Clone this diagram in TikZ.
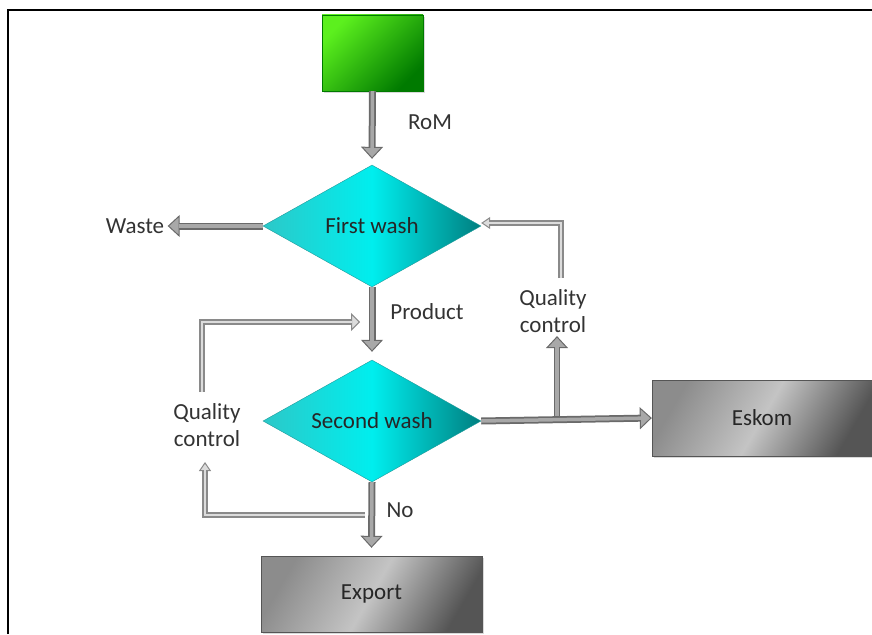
\documentclass[tikz,border=0pt]{standalone}
\usepackage{fontspec}
\setmainfont{Carlito}
\usetikzlibrary{shapes.geometric,arrows.meta,shadows}

\definecolor{feedlight}{HTML}{5CF01E}
\definecolor{feeddark}{HTML}{007A00}
\definecolor{washleft}{HTML}{2CC8C8}
\definecolor{washmid}{HTML}{00EEEE}
\definecolor{washright}{HTML}{007F80}
\definecolor{washedge}{HTML}{1E9A9A}
\definecolor{boxside}{HTML}{8C8C8C}
\definecolor{boxlight}{HTML}{C4C4C4}
\definecolor{boxdark}{HTML}{555555}
\definecolor{pipedark}{HTML}{6A6A6A}
\definecolor{pipelight}{HTML}{A8A8A8}
\definecolor{loopdark}{HTML}{8A8A8A}
\definecolor{looplight}{HTML}{DCDCDC}
\definecolor{inkgray}{HTML}{333333}

\tikzset{
  feedbox/.style={rectangle, minimum width=101pt, minimum height=76pt, draw=feeddark,
    left color=feedlight, right color=feeddark, shading angle=45,
    drop shadow={opacity=0.3, shadow xshift=2pt, shadow yshift=-2pt}},
  washbox/.style={diamond, aspect=1.79, minimum width=218pt, minimum height=122pt,
    inner sep=0pt, draw=washedge, left color=washleft, right color=washright,
    middle color=washmid, text=black!85},
  endbox/.style={rectangle, minimum width=220pt, minimum height=76pt, draw=boxdark,
    left color=boxside, right color=boxdark, middle color=boxlight, shading angle=60,
    text=black!85, drop shadow={opacity=0.3, shadow xshift=2pt, shadow yshift=-2pt}},
  tag/.style={text=inkgray},
  mainpipe/.style={draw=pipedark, line width=7pt,
    -{Triangle[length=12pt,width=22pt,line width=1pt,fill=pipelight]},
    postaction={draw=pipelight, line width=3.5pt, -, shorten >=11pt}},
  looppipe/.style={draw=loopdark, line width=6pt,
    -{Triangle[length=9pt,width=#1,line width=1pt,fill=looplight]},
    postaction={draw=looplight, line width=2.5pt, -, shorten >=8pt}},
  looppipe/.default=18pt
}

\begin{document}
\begin{tikzpicture}[x=1pt,y=-1pt,font=\fontsize{23}{27}\selectfont]
    \useasboundingbox (0,0) rectangle (872,634);

    %Frame lines
    \draw[line width=2pt] (8,634) -- (8,10) -- (872,10);

    % Boxes
    \node[feedbox] (feed) at (372.5,53) {};
    \node[washbox] (wash1) at (372,226) {First wash};
    \node[washbox] (wash2) at (372,421) {Second wash};
    \node[endbox] (eskom) at (762,418) {Eskom};
    \node[endbox, minimum width=221pt] (export) at (371.5,594) {Export};

    % Text Node
    \node[tag] (rom) at (430,122) {RoM};
    \node[tag] (waste) at (135,226) {Waste};
    \node[tag] (product) at (427,312) {Product};
    \node[tag, align=center] (qcright) at (553,311) {Quality\\control};
    \node[tag, align=center] (qcleft) at (207,425) {Quality\\control};
    \node[tag] (no) at (400,510) {No};

    % Joints of the loops
    \coordinate (split) at (557,421);
    \coordinate (qcrfoot) at (561,278);
    \coordinate (qclfoot) at (202,392);
    \coordinate (prodjoin) at (360,322);
    \coordinate (nojoin) at (365,515);
    \coordinate (qclhead) at (205,462);

    %Straight Lines
    \draw[mainpipe] (feed.south) -- ([yshift=6pt]wash1.north);
    \draw[mainpipe] (wash1.west) -- (waste.east);
    \draw[mainpipe] (wash1.south) -- ([yshift=8pt]wash2.north);
    \draw[mainpipe] (wash2.south) -- ([yshift=8pt]export.north);
    \draw[mainpipe, line width=6pt] (split) -- (split |- qcright.south);
    \draw[mainpipe] (wash2.east) -- (eskom.west);

    %Loops
    \draw[looppipe=12pt] (qcrfoot) |- ([yshift=3pt]wash1.east);
    \draw[looppipe] (qclfoot) |- (prodjoin);
    \draw[looppipe=12pt] (nojoin) -| (qclhead);
\end{tikzpicture}
\end{document}
